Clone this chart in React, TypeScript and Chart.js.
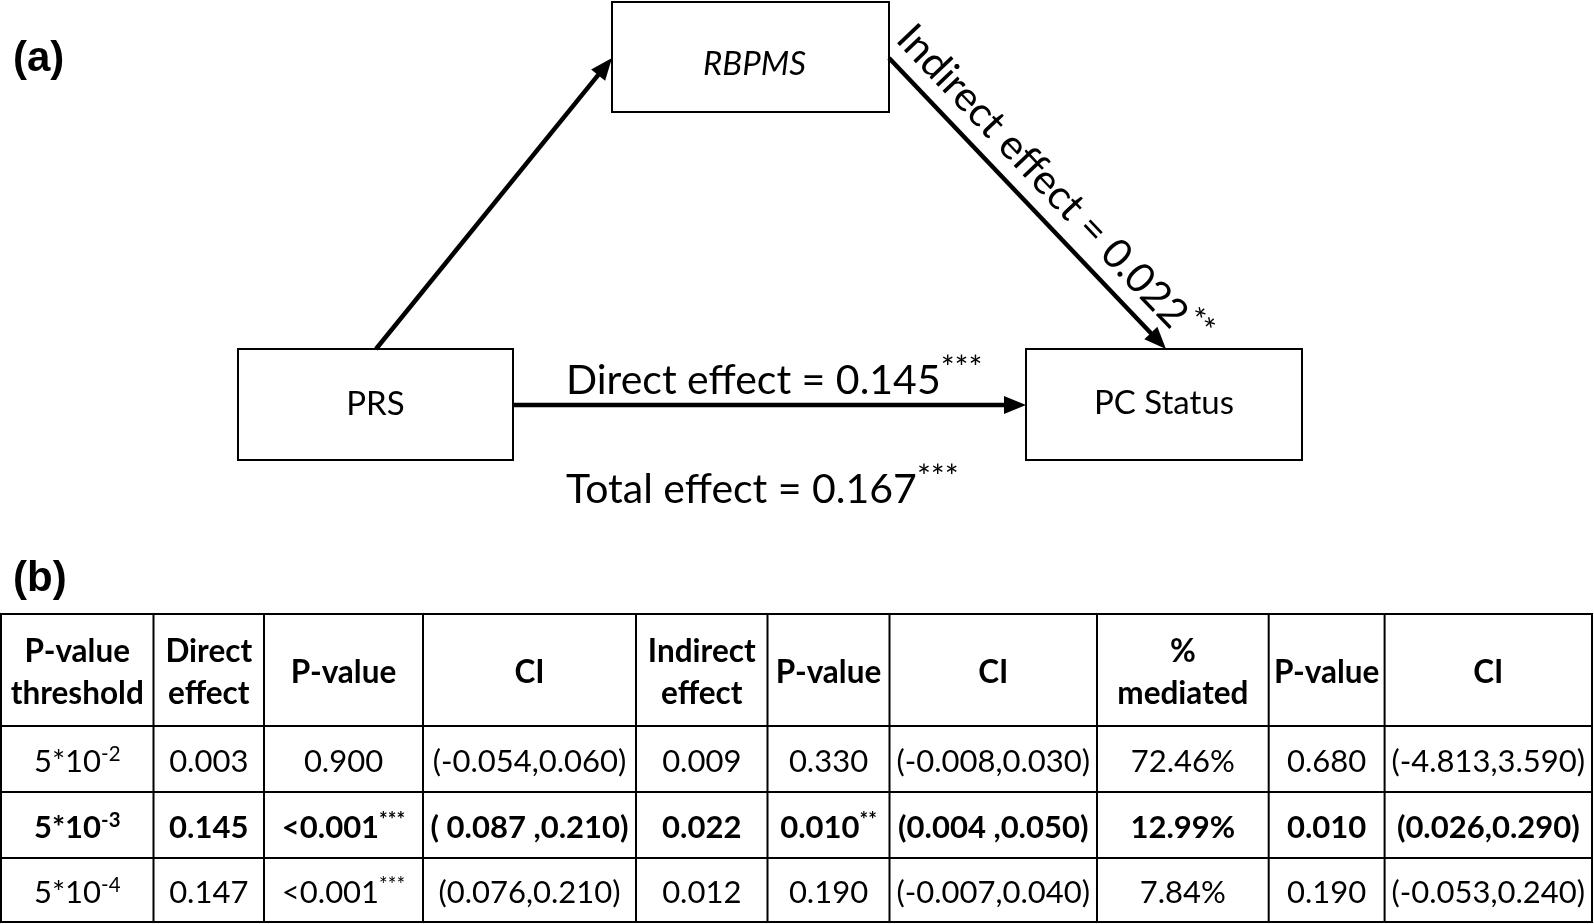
import React, { useEffect, useRef } from 'react';
import { Chart, registerables } from 'chart.js';

Chart.register(...registerables);

// ---------------- data ----------------
const nodeLabels = ['PRS', 'RBPMS', 'PC Status'];
const edgeLabels = ['Direct effect', 'Indirect effect', 'Total effect'];
const edgeValues = ['0.145', '0.022', '0.167'];
const edgeStars = ['***', '**', '***'];

const panelLabels = ['(a)', '(b)'];

const tableHeaders = [
  ['P-value', 'threshold'],
  ['Direct', 'effect'],
  ['P-value'],
  ['CI'],
  ['Indirect', 'effect'],
  ['P-value'],
  ['CI'],
  ['%', 'mediated'],
  ['P-value'],
  ['CI'],
];
const thresholdBase = ['5*10', '5*10', '5*10'];
const thresholdExps = ['-2', '-3', '-4'];
const directEffects = ['0.003', '0.145', '0.147'];
const directP = ['0.900', '<0.001', '<0.001'];
const directPStars = ['', '***', '***'];
const directCI = ['(-0.054,0.060)', '( 0.087 ,0.210)', '(0.076,0.210)'];
const indirectEffects = ['0.009', '0.022', '0.012'];
const indirectP = ['0.330', '0.010', '0.190'];
const indirectPStars = ['', '**', ''];
const indirectCI = ['(-0.008,0.030)', '(0.004 ,0.050)', '(-0.007,0.040)'];
const pctMediated = ['72.46%', '12.99%', '7.84%'];
const mediatedP = ['0.680', '0.010', '0.190'];
const mediatedCI = ['(-4.813,3.590)', '(0.026,0.290)', '(-0.053,0.240)'];
const boldRows = [false, true, false];

// ---------------- layout ----------------
const W = 1594;
const H = 924;
const FAMILY = 'Lato, "Open Sans", sans-serif';
const PANEL_FAMILY = '"Liberation Sans", Arial, sans-serif';

const BOXES = [
  [238, 349, 513, 460], // PRS
  [612, 2, 889, 112], // RBPMS
  [1026, 349, 1302, 460], // PC Status
];
const LABEL_OFFSETS = [
  [0, -1],
  [4, 6],
  [0, -2],
];
const ARROWS = [
  [376, 349, 612, 58],
  [889, 58, 1166, 349],
  [513, 405, 1026, 405],
];
const HEAD_LEN = 22;
const HEAD_HALF = 9;
const COL_X = [1, 153.5, 264, 423, 636, 767.5, 889.5, 1097, 1268.7, 1384.6, 1592];
const ROW_Y = [614, 726, 792, 858, 922];

type Part = { t: string; sup?: boolean };

function fnt(size: number, bold = false, italic = false, family = FAMILY) {
  return `${italic ? 'italic ' : ''}${bold ? 'bold ' : ''}${size}px ${family}`;
}

function drawRich(
  ctx: CanvasRenderingContext2D,
  parts: Part[],
  x: number,
  y: number,
  align: 'left' | 'center',
  size: number,
  bold = false,
  italic = false,
  supScale = 0.68,
  family = FAMILY
) {
  const supSize = size * supScale;
  let total = 0;
  const widths = parts.map((p) => {
    ctx.font = fnt(p.sup ? supSize : size, bold, italic, family);
    const w = ctx.measureText(p.t).width;
    total += w;
    return w;
  });
  let cx = align === 'center' ? x - total / 2 : x;
  ctx.textAlign = 'left';
  ctx.textBaseline = 'alphabetic';
  parts.forEach((p, i) => {
    ctx.font = fnt(p.sup ? supSize : size, bold, italic, family);
    ctx.fillText(p.t, cx, p.sup ? y - size * 0.36 : y);
    cx += widths[i];
  });
}

function shaftEnd(a: number[]) {
  const dx = a[2] - a[0];
  const dy = a[3] - a[1];
  const len = Math.hypot(dx, dy);
  return { x: a[2] - (dx / len) * HEAD_LEN * 0.8, y: a[3] - (dy / len) * HEAD_LEN * 0.8 };
}

const diagramPlugin = {
  id: 'mediationDiagram',
  afterDraw(chart: any) {
    const ctx: CanvasRenderingContext2D = chart.ctx;
    const xs = chart.scales.x;
    const ys = chart.scales.y;
    const px = (v: number) => xs.getPixelForValue(v);
    const py = (v: number) => ys.getPixelForValue(v);
    ctx.save();
    ctx.fillStyle = '#000';
    ctx.strokeStyle = '#000';

    // boxes
    ctx.lineWidth = 2;
    BOXES.forEach((b) => {
      ctx.strokeRect(px(b[0]), py(b[1]), px(b[2]) - px(b[0]), py(b[3]) - py(b[1]));
    });

    // arrowheads
    ARROWS.forEach((a) => {
      const x0 = px(a[0]), y0 = py(a[1]), x1 = px(a[2]), y1 = py(a[3]);
      const len = Math.hypot(x1 - x0, y1 - y0);
      const ux = (x1 - x0) / len, uy = (y1 - y0) / len;
      const bx = x1 - ux * HEAD_LEN, by = y1 - uy * HEAD_LEN;
      ctx.beginPath();
      ctx.moveTo(x1, y1);
      ctx.lineTo(bx - uy * HEAD_HALF, by + ux * HEAD_HALF);
      ctx.lineTo(bx + uy * HEAD_HALF, by - ux * HEAD_HALF);
      ctx.closePath();
      ctx.fill();
    });

    // node labels
    const labelSize = 33;
    nodeLabels.forEach((lab, i) => {
      const b = BOXES[i];
      const cx = px((b[0] + b[2]) / 2 + LABEL_OFFSETS[i][0]);
      const cy = py((b[1] + b[3]) / 2 + LABEL_OFFSETS[i][1]) + labelSize * 0.36;
      drawRich(ctx, [{ t: lab }], cx, cy, 'center', labelSize, false, i === 1);
    });

    // panel labels
    drawRich(ctx, [{ t: panelLabels[0] }], px(13), py(71), 'left', 42, true, false, 0.68, PANEL_FAMILY);
    drawRich(ctx, [{ t: panelLabels[1] }], px(13), py(591), 'left', 42, true, false, 0.68, PANEL_FAMILY);

    // edge labels
    const eSize = 41;
    const eSup = 0.8;
    drawRich(
      ctx,
      [{ t: `${edgeLabels[0]} = ${edgeValues[0]}` }, { t: edgeStars[0], sup: true }],
      px(566),
      py(394),
      'left',
      eSize,
      false,
      false,
      eSup
    );
    drawRich(
      ctx,
      [{ t: `${edgeLabels[2]} = ${edgeValues[2]}` }, { t: edgeStars[2], sup: true }],
      px(566),
      py(503),
      'left',
      eSize,
      false,
      false,
      eSup
    );
    // indirect (rotated along arrow)
    {
      const a = ARROWS[1];
      const x0 = px(a[0]), y0 = py(a[1]), x1 = px(a[2]), y1 = py(a[3]);
      const ang = Math.atan2(y1 - y0, x1 - x0);
      const len = Math.hypot(x1 - x0, y1 - y0);
      const ux = (x1 - x0) / len, uy = (y1 - y0) / len;
      const nx = uy, ny = -ux;
      const sx = x0 - 9 * ux + 16 * nx;
      const sy = y0 - 9 * uy + 16 * ny;
      ctx.save();
      ctx.translate(sx, sy);
      ctx.rotate(ang);
      drawRich(
        ctx,
        [{ t: `${edgeLabels[1]} = ${edgeValues[1]}` }, { t: edgeStars[1], sup: true }],
        0,
        0,
        'left',
        eSize,
        false,
        false,
        eSup
      );
      ctx.restore();
    }

    // table grid
    ctx.lineWidth = 2;
    const tx0 = px(COL_X[0]), tx1 = px(COL_X[COL_X.length - 1]);
    const ty0 = py(ROW_Y[0]), ty1 = py(ROW_Y[ROW_Y.length - 1]);
    ctx.beginPath();
    ROW_Y.forEach((r) => {
      ctx.moveTo(tx0 - 1, py(r));
      ctx.lineTo(tx1 + 1, py(r));
    });
    COL_X.forEach((c) => {
      ctx.moveTo(px(c), ty0);
      ctx.lineTo(px(c), ty1);
    });
    ctx.stroke();

    // table header
    const hSize = 31.5;
    const tSize = 31;
    const lineGap = 42;
    tableHeaders.forEach((lines, ci) => {
      const cx = px((COL_X[ci] + COL_X[ci + 1]) / 2);
      const cy = py((ROW_Y[0] + ROW_Y[1]) / 2) + 1.5;
      lines.forEach((ln, li) => {
        const off = (li - (lines.length - 1) / 2) * lineGap;
        drawRich(ctx, [{ t: ln }], cx, cy + off + hSize * 0.36, 'center', hSize, true);
      });
    });

    // table body
    for (let r = 0; r < 3; r++) {
      const cells: Part[][] = [
        [{ t: thresholdBase[r] }, { t: thresholdExps[r], sup: true }],
        [{ t: directEffects[r] }],
        [{ t: directP[r] }, { t: directPStars[r], sup: true }],
        [{ t: directCI[r] }],
        [{ t: indirectEffects[r] }],
        [{ t: indirectP[r] }, { t: indirectPStars[r], sup: true }],
        [{ t: indirectCI[r] }],
        [{ t: pctMediated[r] }],
        [{ t: mediatedP[r] }],
        [{ t: mediatedCI[r] }],
      ];
      const cy = py((ROW_Y[r + 1] + ROW_Y[r + 2]) / 2) + 2;
      cells.forEach((parts, ci) => {
        const cx = px((COL_X[ci] + COL_X[ci + 1]) / 2);
        drawRich(ctx, parts, cx, cy + tSize * 0.36, 'center', tSize, boldRows[r], false, 0.66);
      });
    }

    ctx.restore();
  },
};

export default function App() {
  const ref = useRef<HTMLCanvasElement>(null);
  useEffect(() => {
    document.body.style.margin = '0';
    const canvas = ref.current!;
    const chart = new Chart(canvas, {
      type: 'scatter',
      data: {
        datasets: ARROWS.map((a, i) => {
          const e = shaftEnd(a);
          return {
            label: ['a path', 'Indirect effect', 'Direct effect'][i],
            data: [
              { x: a[0], y: a[1] },
              { x: e.x, y: e.y },
            ],
            showLine: true,
            borderColor: '#000',
            backgroundColor: '#000',
            borderWidth: 4.5,
            pointRadius: 0,
            pointHoverRadius: 0,
            borderCapStyle: 'butt',
          } as any;
        }),
      },
      options: {
        responsive: false,
        animation: false,
        devicePixelRatio: 1,
        layout: { padding: 0 },
        events: [],
        plugins: {
          legend: { display: false },
          tooltip: { enabled: false },
          title: { display: false },
        },
        scales: {
          x: { type: 'linear', min: 0, max: W, display: false },
          y: { type: 'linear', min: 0, max: H, reverse: true, display: false },
        },
      } as any,
      plugins: [diagramPlugin],
    });
    if ((document as any).fonts && (document as any).fonts.load) {
      Promise.all([
        (document as any).fonts.load(`30px ${FAMILY}`),
        (document as any).fonts.load(`bold 30px ${FAMILY}`),
        (document as any).fonts.load(`italic 30px ${FAMILY}`),
        (document as any).fonts.load(`bold 40px ${PANEL_FAMILY}`),
      ])
        .then(() => chart.draw())
        .catch(() => {});
    }
    return () => chart.destroy();
  }, []);
  return (
    <canvas
      ref={ref}
      width={W}
      height={H}
      style={{ display: 'block', width: W, height: H }}
    />
  );
}
